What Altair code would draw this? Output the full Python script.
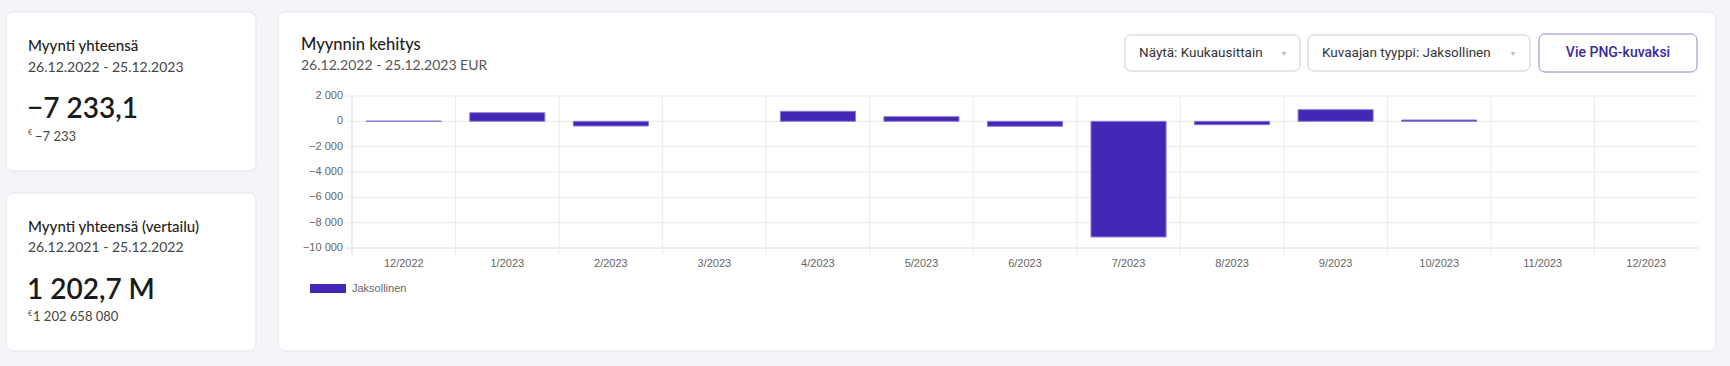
import altair as alt
import pandas as pd

# ---------------- data ----------------
months = ["12/2022", "1/2023", "2/2023", "3/2023", "4/2023", "5/2023", "6/2023",
          "7/2023", "8/2023", "9/2023", "10/2023", "11/2023", "12/2023"]
sales = [20, 680, -370, None, 790, 370, -395, -9130, -265, 920, 105, None, None]
y_ticks = [2000, 0, -2000, -4000, -6000, -8000, -10000]
series_name = "Jaksollinen"

card1_title = "Myynti yhteensä"
card1_period = "26.12.2022 - 25.12.2023"
card1_value = "−7 233,1"
card1_exact = "−7 233"
card2_title = "Myynti yhteensä (vertailu)"
card2_period = "26.12.2021 - 25.12.2022"
card2_value = "1 202,7 M"
card2_exact = "1 202 658 080"
currency = "€"
chart_title = "Myynnin kehitys"
chart_subtitle = "26.12.2022 - 25.12.2023 EUR"
btn_show = "Näytä: Kuukausittain"
btn_type = "Kuvaajan tyyppi: Jaksollinen"
btn_export = "Vie PNG-kuvaksi"

# ---------------- layout ----------------
OX, OY = 352, 96          # plot origin in page pixels
W, H = 1346, 152          # plot area size
BAR = "#4527b5"
GRID = "#ebebeb"
AXIS = "#d9d9d9"
CHART_FONT = "Liberation Sans"
UI_FONT = "Lato"

df = pd.DataFrame({"month": months, "value": sales})
df_m = pd.DataFrame({"month": months})
df_t = pd.DataFrame({"v": y_ticks})
one = pd.DataFrame({"a": [0]})


def rx(x):
    return x - OX


def ry(y):
    return y - OY


def box(x1, x2, y1, y2, stroke="#e2e3e9", radius=7):
    return alt.Chart(one).mark_rect(
        fill="white", stroke=stroke, strokeWidth=1, cornerRadius=radius
    ).encode(x=alt.value(rx(x1)), x2=alt.value(rx(x2)),
             y=alt.value(ry(y1)), y2=alt.value(ry(y2)))


def txt(s, x, y, size, color="#222222", font=UI_FONT, weight="normal",
        align="left", baseline="middle"):
    return alt.Chart(pd.DataFrame({"t": [s]})).mark_text(
        align=align, baseline=baseline, font=font, fontSize=size,
        fontWeight=weight, color=color
    ).encode(x=alt.value(rx(x)), y=alt.value(ry(y)), text="t:N")


def caret(x, y):
    return alt.Chart(one).mark_point(
        shape="triangle-down", filled=True, size=22, color="#bdbdbd", opacity=1
    ).encode(x=alt.value(rx(x)), y=alt.value(ry(y)))


xscale = alt.Scale(domain=months, paddingInner=0, paddingOuter=0)
yscale = alt.Scale(domain=[-10000, 2000], nice=False, zero=False)

# background cards
cards = [
    box(6, 256, 12, 171),
    box(6, 256, 193, 351),
    box(278, 1716, 12, 351),
    box(1125, 1300, 35, 71, stroke="#c9cad2", radius=6),
    box(1308, 1530, 35, 71, stroke="#c9cad2", radius=6),
    box(1539, 1697, 34, 72, stroke="#8f86c9", radius=6),
]

# grid lines (through scales)
hgrid = alt.Chart(df_t).mark_rule(strokeWidth=1).encode(
    y=alt.Y("v:Q", scale=yscale, axis=None),
    x=alt.value(-6), x2=alt.value(W),
    color=alt.condition(alt.datum.v == -10000, alt.value(AXIS), alt.value(GRID)),
)
vgrid = alt.Chart(df_m).mark_rule(strokeWidth=1).encode(
    x=alt.X("month:N", sort=months, scale=xscale, bandPosition=0, axis=None),
    y=alt.value(0), y2=alt.value(H + 7),
    color=alt.condition(alt.datum.month == months[0], alt.value(AXIS), alt.value(GRID)),
)

bars = alt.Chart(df).mark_bar(
    width=alt.RelativeBandSize(0.725), color=BAR, stroke="#8a78d8", strokeWidth=1
).encode(
    x=alt.X("month:N", sort=months, scale=xscale, axis=None),
    y=alt.Y("value:Q", scale=yscale, axis=None),
)

# tick labels, placed through the scales
xlabels = alt.Chart(df_m).mark_text(
    baseline="middle", align="center", font=CHART_FONT, fontSize=11, color="#666666"
).encode(
    x=alt.X("month:N", sort=months, scale=xscale, axis=None),
    y=alt.value(ry(264)),
    text="month:N",
)
ylabels = alt.Chart(df_t).transform_calculate(
    lab="replace(format(datum.v, ','), ',', ' ')"
).mark_text(
    baseline="middle", align="right", font=CHART_FONT, fontSize=11, color="#666666"
).encode(
    y=alt.Y("v:Q", scale=yscale, axis=None),
    x=alt.value(rx(343)),
    text="lab:N",
)

legend_swatch = alt.Chart(one).mark_rect(color=BAR).encode(
    x=alt.value(rx(310)), x2=alt.value(rx(346)),
    y=alt.value(ry(284)), y2=alt.value(ry(293)))

texts = [
    txt(card1_title, 28, 46, 15, color="#1e1e1e", weight=500),
    txt(card1_period, 28, 68, 14, color="#444444"),
    txt(card1_value, 27, 118, 28, color="#1a1a1a", weight=600, baseline="alphabetic"),
    txt(currency, 28, 133, 7, color="#555555"),
    txt(card1_exact, 35, 136.5, 13, color="#444444"),
    txt(card2_title, 28, 227, 15, color="#1e1e1e", weight=500),
    txt(card2_period, 28, 248, 14, color="#444444"),
    txt(card2_value, 27, 299, 28, color="#1a1a1a", weight=600, baseline="alphabetic"),
    txt(currency, 28, 314, 7, color="#555555"),
    txt(card2_exact, 33, 317, 13, color="#444444"),
    txt(chart_title, 301, 45, 16.5, color="#1e1e1e", weight=500),
    txt(chart_subtitle, 301, 66, 14, color="#555555"),
    txt(btn_show, 1139, 53, 13.5, color="#333333", font="Roboto"),
    txt(btn_type, 1322, 53, 13.5, color="#333333", font="Roboto"),
    txt(btn_export, 1618, 53, 14, color="#3b2a9e", font="Roboto", weight=500, align="center"),
    txt(series_name, 352, 288.5, 11, color="#666666", font=CHART_FONT),
]

carets = [caret(1284, 54), caret(1513, 54)]

chart = alt.layer(
    *cards, hgrid, vgrid, bars, xlabels, ylabels, legend_swatch, *texts, *carets
).properties(
    width=W, height=H,
    padding={"left": OX, "top": OY, "right": 1730 - OX - W, "bottom": 366 - OY - H},
    autosize=alt.AutoSizeParams(type="none"),
    background="#f4f5f9",
).configure_view(stroke=None)

chart.save("out.html", embed_options={"renderer": "svg", "actions": False})
